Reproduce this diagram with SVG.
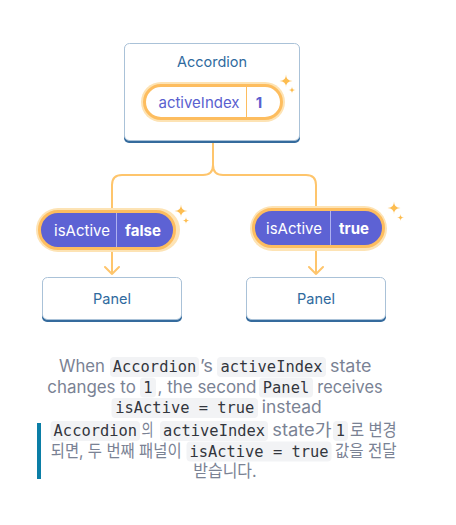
<svg xmlns="http://www.w3.org/2000/svg" width="456" height="525" viewBox="0 0 456 525">
  <defs>
    <style>
      .box { fill: #ffffff; stroke: #aac2d8; stroke-width: 1; }
      .boxshadow { fill: #356b9d; }
      .ntitle { font-family: Inter, "Noto Sans", sans-serif; font-size: 14.5px; fill: #2f6a9e; text-anchor: middle; }
      .glow { fill: #fde3b4; }
      .pillw { fill: #ffffff; stroke: #fdbd5f; stroke-width: 3; }
      .pillp { fill: #5d62d4; stroke: #fdbd5f; stroke-width: 3; }
      .ptxt { font-family: Inter, "Noto Sans", sans-serif; font-size: 15px; text-anchor: middle; }
      .pv { font-weight: bold; }
      .conn { fill: none; stroke: #fec56c; stroke-width: 2; stroke-linecap: round; stroke-linejoin: round; }
      .spark { fill: #fdbd50; }
      .body { font-family: Inter, "Noto Sans CJK KR", sans-serif; font-size: 17px; fill: #7a8294; }
      .cbg { fill: #f2f3f5; }
      .code { font-family: "DejaVu Sans Mono", monospace; font-size: 15.4px; fill: #33363d; text-anchor: middle; }
    </style>
  </defs>
  <rect width="456" height="525" fill="#ffffff"/>

  <g id="connectors">
    <path class="conn" d="M213,143 V165 Q213,175 203,175 H122 Q112,175 112,185 V212"/>
    <path class="conn" d="M213,165 Q213,175 223,175 H306 Q316,175 316,185 V210"/>
    <path class="conn" d="M112,250 V274 M105,267 L112,274 L119,267"/>
    <path class="conn" d="M316,248 V274 M309,267 L316,274 L323,267"/>
  </g>

  <g id="accordion">
    <rect class="boxshadow" x="124" y="45" width="176" height="98" rx="5"/>
    <rect class="box" x="124.5" y="43.5" width="175" height="97" rx="5"/>
    <text class="ntitle" x="212" y="67">Accordion</text>
  </g>

  <g id="state-activeIndex">
    <rect class="glow" x="141" y="82" width="144" height="40" rx="20"/>
    <rect class="pillw" x="144.5" y="85.5" width="137" height="33" rx="16.5"/>
    <line x1="246.5" y1="87" x2="246.5" y2="117" stroke="#fdbd5f" stroke-width="1"/>
    <text class="ptxt" x="199" y="108" fill="#5a5fcf">activeIndex</text>
    <text class="ptxt pv" x="259" y="108" fill="#5a5fcf">1</text>
    <path class="spark" d="M286,74.5 Q286,81 292.5,81 Q286,81 286,87.5 Q286,81 279.5,81 Q286,81 286,74.5 Z"/>
    <path class="spark" d="M292,86.5 Q292,90 295.5,90 Q292,90 292,93.5 Q292,90 288.5,90 Q292,90 292,86.5 Z"/>
  </g>

  <g id="prop-left">
    <rect class="glow" x="36" y="208" width="144" height="44" rx="22"/>
    <rect class="pillp" x="39.5" y="211.5" width="135" height="37" rx="18.5"/>
    <line x1="116.5" y1="213" x2="116.5" y2="247" stroke="#aeb1f0" stroke-width="1"/>
    <text class="ptxt" x="82" y="236" fill="#ffffff">isActive</text>
    <text class="ptxt pv" x="143" y="236" fill="#ffffff">false</text>
    <path class="spark" d="M181,204.5 Q181,211 187.5,211 Q181,211 181,217.5 Q181,211 174.5,211 Q181,211 181,204.5 Z"/>
    <path class="spark" d="M186,217 Q186,220.5 189.5,220.5 Q186,220.5 186,224 Q186,220.5 182.5,220.5 Q186,220.5 186,217 Z"/>
  </g>

  <g id="prop-right">
    <rect class="glow" x="250" y="206" width="137" height="45" rx="22.5"/>
    <rect class="pillp" x="253.5" y="209.5" width="130" height="37" rx="18.5"/>
    <line x1="330.5" y1="211" x2="330.5" y2="245" stroke="#aeb1f0" stroke-width="1"/>
    <text class="ptxt" x="294" y="234" fill="#ffffff">isActive</text>
    <text class="ptxt pv" x="354" y="234" fill="#ffffff">true</text>
    <path class="spark" d="M394,201.5 Q394,208 400.5,208 Q394,208 394,214.5 Q394,208 387.5,208 Q394,208 394,201.5 Z"/>
    <path class="spark" d="M400.5,214 Q400.5,217.5 404,217.5 Q400.5,217.5 400.5,221 Q400.5,217.5 397,217.5 Q400.5,217.5 400.5,214 Z"/>
  </g>

  <g id="panel-left">
    <rect class="boxshadow" x="42" y="279" width="140" height="43" rx="5"/>
    <rect class="box" x="42.5" y="277.5" width="139" height="42" rx="5"/>
    <text class="ntitle" x="112" y="304">Panel</text>
  </g>

  <g id="panel-right">
    <rect class="boxshadow" x="246" y="279" width="140" height="43" rx="5"/>
    <rect class="box" x="246.5" y="277.5" width="139" height="42" rx="5"/>
    <text class="ntitle" x="316" y="304">Panel</text>
  </g>

  <g id="caption">
    <rect class="cbg" x="110" y="357" width="89" height="20" rx="4"/>
    <rect class="cbg" x="217" y="357" width="109" height="20" rx="4"/>
    <rect class="cbg" x="140" y="377.5" width="16" height="20" rx="4"/>
    <rect class="cbg" x="259" y="377.5" width="54" height="20" rx="4"/>
    <rect class="cbg" x="111.5" y="398" width="146.5" height="20" rx="4"/>
    <text class="body" x="59" y="372" textLength="46" lengthAdjust="spacingAndGlyphs">When</text>
    <text class="code" x="154.5" y="372">Accordion</text>
    <text class="body" x="200" y="372" textLength="13" lengthAdjust="spacingAndGlyphs">’s</text>
    <text class="code" x="271.5" y="372">activeIndex</text>
    <text class="body" x="330" y="372" textLength="41.5" lengthAdjust="spacingAndGlyphs">state</text>
    <text class="body" x="47.3" y="392.5" textLength="88.5" lengthAdjust="spacingAndGlyphs">changes to</text>
    <text class="code" x="148" y="392.5">1</text>
    <text class="body" x="157.5" y="392.5" textLength="99" lengthAdjust="spacingAndGlyphs">, the second</text>
    <text class="code" x="286" y="392.5">Panel</text>
    <text class="body" x="317.3" y="392.5" textLength="65.3" lengthAdjust="spacingAndGlyphs">receives</text>
    <text class="code" x="184.8" y="413">isActive = true</text>
    <text class="body" x="261.7" y="413" textLength="60" lengthAdjust="spacingAndGlyphs">instead</text>

    <rect x="37" y="423" width="4" height="56" fill="#0b7ea6"/>
    <rect class="cbg" x="50.5" y="421" width="89.5" height="20" rx="4"/>
    <rect class="cbg" x="160" y="421" width="108" height="20" rx="4"/>
    <rect class="cbg" x="333" y="421" width="15" height="20" rx="4"/>
    <rect class="cbg" x="186.5" y="441.5" width="145" height="20" rx="4"/>
    <text class="code" x="95.3" y="436">Accordion</text>
    <text class="body" x="141.5" y="436" textLength="12" lengthAdjust="spacingAndGlyphs">의</text>
    <text class="code" x="214" y="436">activeIndex</text>
    <text class="body" x="272.3" y="436" textLength="59.3" lengthAdjust="spacingAndGlyphs">state가</text>
    <text class="code" x="340.5" y="436">1</text>
    <text class="body" x="350" y="436" textLength="46.7" lengthAdjust="spacingAndGlyphs">로 변경</text>
    <text class="body" x="50.7" y="456.5" textLength="131" lengthAdjust="spacingAndGlyphs">되면, 두 번째 패널이</text>
    <text class="code" x="259" y="456.5">isActive = true</text>
    <text class="body" x="335" y="456.5" textLength="61.7" lengthAdjust="spacingAndGlyphs">값을 전달</text>
    <text class="body" x="193.3" y="477" textLength="63.3" lengthAdjust="spacingAndGlyphs">받습니다.</text>
  </g>
</svg>
